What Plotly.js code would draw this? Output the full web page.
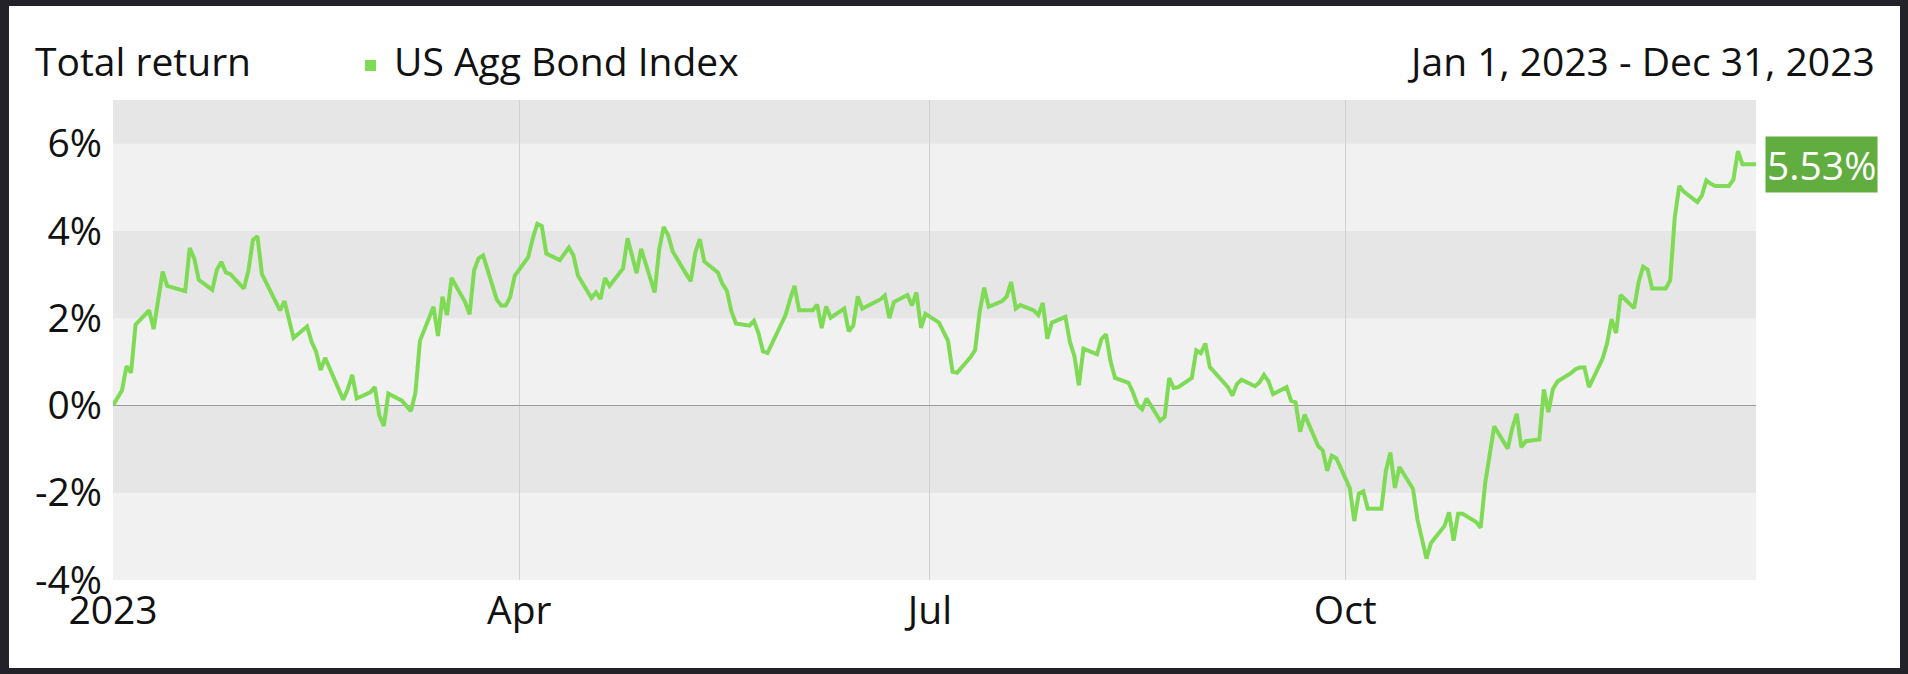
<!DOCTYPE html>
<html>
<head>
<meta charset="utf-8">
<script src="https://cdn.plot.ly/plotly-3.0.1.min.js"></script>
<style>
  html, body { margin: 0; padding: 0; background: #232228; width: 1908px; height: 674px; overflow: hidden; }
  #chart { position: absolute; left: 9px; top: 6px; width: 1891px; height: 662px; background: #ffffff; }
</style>
</head>
<body>
<div id="chart"></div>
<script>
const seriesName = 'US Agg Bond Index';
const chartTitle = 'Total return';
const periodLabel = 'Jan 1, 2023 - Dec 31, 2023';

const dates = [
'2023-01-01','2023-01-03','2023-01-04','2023-01-05','2023-01-06','2023-01-09','2023-01-10','2023-01-11','2023-01-12','2023-01-13',
'2023-01-17','2023-01-18','2023-01-19','2023-01-20','2023-01-23','2023-01-24','2023-01-25','2023-01-26','2023-01-27','2023-01-30',
'2023-01-31','2023-02-01','2023-02-02','2023-02-03','2023-02-06','2023-02-07','2023-02-08','2023-02-09','2023-02-10','2023-02-13',
'2023-02-14','2023-02-15','2023-02-16','2023-02-17','2023-02-21','2023-02-22','2023-02-23','2023-02-24','2023-02-27','2023-02-28',
'2023-03-01','2023-03-02','2023-03-03','2023-03-06','2023-03-07','2023-03-08','2023-03-09','2023-03-10','2023-03-13','2023-03-14',
'2023-03-15','2023-03-16','2023-03-17','2023-03-20','2023-03-21','2023-03-22','2023-03-23','2023-03-24','2023-03-27','2023-03-28',
'2023-03-29','2023-03-30','2023-03-31','2023-04-03','2023-04-04','2023-04-05','2023-04-06','2023-04-07','2023-04-10','2023-04-11',
'2023-04-12','2023-04-13','2023-04-14','2023-04-17','2023-04-18','2023-04-19','2023-04-20','2023-04-21','2023-04-24','2023-04-25',
'2023-04-26','2023-04-27','2023-04-28','2023-05-01','2023-05-02','2023-05-03','2023-05-04','2023-05-05','2023-05-08','2023-05-09',
'2023-05-10','2023-05-11','2023-05-12','2023-05-15','2023-05-16','2023-05-17','2023-05-18','2023-05-19','2023-05-22','2023-05-23',
'2023-05-24','2023-05-25','2023-05-26','2023-05-30','2023-05-31','2023-06-01','2023-06-02','2023-06-05','2023-06-06','2023-06-07',
'2023-06-08','2023-06-09','2023-06-12','2023-06-13','2023-06-14','2023-06-15','2023-06-16','2023-06-20','2023-06-21','2023-06-22',
'2023-06-23','2023-06-26','2023-06-27','2023-06-28','2023-06-29','2023-06-30','2023-07-03','2023-07-05','2023-07-06','2023-07-07',
'2023-07-10','2023-07-11','2023-07-12','2023-07-13','2023-07-14','2023-07-17','2023-07-18','2023-07-19','2023-07-20','2023-07-21',
'2023-07-24','2023-07-25','2023-07-26','2023-07-27','2023-07-28','2023-07-31','2023-08-01','2023-08-02','2023-08-03','2023-08-04',
'2023-08-07','2023-08-08','2023-08-09','2023-08-10','2023-08-11','2023-08-14','2023-08-15','2023-08-16','2023-08-17','2023-08-18',
'2023-08-21','2023-08-22','2023-08-23','2023-08-24','2023-08-25','2023-08-28','2023-08-29','2023-08-30','2023-08-31','2023-09-01',
'2023-09-05','2023-09-06','2023-09-07','2023-09-08','2023-09-11','2023-09-12','2023-09-13','2023-09-14','2023-09-15','2023-09-18',
'2023-09-19','2023-09-20','2023-09-21','2023-09-22','2023-09-25','2023-09-26','2023-09-27','2023-09-28','2023-09-29','2023-10-02',
'2023-10-03','2023-10-04','2023-10-05','2023-10-06','2023-10-09','2023-10-10','2023-10-11','2023-10-12','2023-10-13','2023-10-16',
'2023-10-17','2023-10-18','2023-10-19','2023-10-20','2023-10-23','2023-10-24','2023-10-25','2023-10-26','2023-10-27','2023-10-30',
'2023-10-31','2023-11-01','2023-11-02','2023-11-03','2023-11-06','2023-11-07','2023-11-08','2023-11-09','2023-11-10','2023-11-13',
'2023-11-14','2023-11-15','2023-11-16','2023-11-17','2023-11-20','2023-11-21','2023-11-22','2023-11-23','2023-11-24','2023-11-27',
'2023-11-28','2023-11-29','2023-11-30','2023-12-01','2023-12-04','2023-12-05','2023-12-06','2023-12-07','2023-12-08','2023-12-11',
'2023-12-12','2023-12-13','2023-12-14','2023-12-15','2023-12-18','2023-12-19','2023-12-20','2023-12-21','2023-12-22','2023-12-25',
'2023-12-26','2023-12-27','2023-12-28','2023-12-31'
];

const totalReturn = [
0.00,0.35,0.90,0.75,1.85,2.18,1.75,2.42,3.07,2.74,
2.62,3.61,3.37,2.88,2.65,3.11,3.29,3.05,3.01,2.68,
3.09,3.79,3.88,3.01,2.37,2.18,2.39,1.97,1.55,1.81,
1.46,1.23,0.81,1.09,0.13,0.37,0.70,0.16,0.30,0.42,
-0.23,-0.47,0.27,0.11,0.00,-0.13,0.29,1.48,2.26,1.59,
2.49,2.07,2.92,2.37,2.09,3.10,3.37,3.44,2.43,2.29,
2.29,2.49,2.97,3.40,3.83,4.16,4.11,3.48,3.33,3.48,
3.62,3.44,2.98,2.46,2.59,2.44,2.92,2.74,3.14,3.83,
3.43,3.03,3.59,2.59,3.57,4.09,3.90,3.53,3.01,2.85,
3.50,3.81,3.30,3.05,2.79,2.63,2.16,1.88,1.83,1.94,
1.66,1.24,1.20,2.07,2.43,2.74,2.18,2.18,2.31,1.77,
2.27,2.01,2.22,1.70,1.83,2.50,2.22,2.43,2.52,2.00,
2.37,2.53,2.29,2.59,1.78,2.10,1.90,1.48,0.77,0.75,
1.11,1.27,2.14,2.70,2.26,2.39,2.50,2.83,2.22,2.30,
2.18,2.07,2.35,1.53,1.90,2.03,1.46,1.13,0.46,1.30,
1.17,1.52,1.63,1.01,0.63,0.52,0.29,0.01,-0.09,0.16,
-0.35,-0.26,0.63,0.40,0.42,0.63,1.26,1.20,1.42,0.88,
0.42,0.23,0.49,0.59,0.44,0.53,0.70,0.55,0.26,0.42,
0.11,0.07,-0.60,-0.21,-0.93,-1.03,-1.50,-1.15,-1.21,-1.89,
-2.65,-2.02,-1.97,-2.37,-2.37,-1.50,-1.08,-1.89,-1.41,-1.91,
-2.61,-3.06,-3.51,-3.15,-2.76,-2.45,-3.10,-2.48,-2.48,-2.67,
-2.80,-1.78,-1.13,-0.48,-0.99,-0.52,-0.19,-0.96,-0.82,-0.78,
0.37,-0.15,0.37,0.55,0.74,0.83,0.87,0.87,0.42,1.07,
1.42,1.98,1.66,2.53,2.23,2.83,3.18,3.11,2.68,2.68,
2.87,4.31,5.03,4.90,4.66,4.81,5.16,5.08,5.03,5.03,
5.18,5.83,5.53,5.53
];

const xTickDates = ['2023-01-01','2023-04-01','2023-07-01','2023-10-01'];
const xTickLabels = ['2023','Apr','Jul','Oct'];
const yTickValues = [-4,-2,0,2,4,6];
const yTickLabels = ['-4%','-2%','0%','2%','4%','6%'];

const FONT = '"Open Sans", "DejaVu Sans", sans-serif';
const FS = 39;
const lineColor = '#7fdb55';
const labelColor = '#61ad3f';
const yMin = -4, yMax = 7;

// alternating horizontal bands (darker in every other 2% interval, counted from the top)
const shapes = [];
const bandEdges = yTickValues.concat([yMax]);
for (let i = 0; i < bandEdges.length - 1; i++) {
  const lo = bandEdges[i], hi = bandEdges[i + 1];
  const dark = ((bandEdges.length - 2 - i) % 2) === 0;
  shapes.push({
    type: 'rect', xref: 'paper', yref: 'y', x0: 0, x1: 1, y0: lo, y1: hi,
    fillcolor: dark ? '#e6e6e6' : '#f1f1f1', line: { width: 0 }, layer: 'below'
  });
}
// legend marker square
shapes.push({
  type: 'rect', xref: 'paper', yref: 'paper',
  x0: 0.1534, x1: 0.1601, y0: 1.0604, y1: 1.0833,
  fillcolor: lineColor, line: { width: 0 }
});

const lastIdx = dates.length - 1;

const trace = {
  type: 'scatter', mode: 'lines', name: seriesName,
  x: dates, y: totalReturn,
  line: { color: lineColor, width: 4 },
  hoverinfo: 'x+y'
};

const layout = {
  width: 1891, height: 662,
  margin: { l: 104, r: 144, t: 94, b: 88, pad: 0 },
  paper_bgcolor: '#ffffff',
  plot_bgcolor: '#f1f1f1',
  showlegend: false,
  font: { family: FONT, size: FS, color: '#111111' },
  xaxis: {
    type: 'date',
    range: ['2023-01-01', '2023-12-31'],
    tickmode: 'array', tickvals: xTickDates, ticktext: xTickLabels,
    showgrid: true, gridcolor: '#d0d0d0', gridwidth: 1,
    zeroline: false, showline: false, ticks: '',
    tickfont: { family: FONT, size: FS, color: '#111111' },
    ticklabelstandoff: 4
  },
  yaxis: {
    range: [yMin, yMax],
    tickmode: 'array', tickvals: yTickValues, ticktext: yTickLabels,
    showgrid: false, zeroline: true, zerolinecolor: '#9c9c9c', zerolinewidth: 1.5,
    showline: false, ticks: '',
    tickfont: { family: FONT, size: FS, color: '#111111' },
    ticklabelstandoff: 10
  },
  shapes: shapes,
  annotations: [
    { xref: 'paper', yref: 'paper', x: -0.0487, y: 1.082, xanchor: 'left', yanchor: 'middle',
      text: chartTitle, showarrow: false, font: { family: FONT, size: FS, color: '#111111' } },
    { xref: 'paper', yref: 'paper', x: 0.1698, y: 1.082, xanchor: 'left', yanchor: 'middle',
      text: seriesName, showarrow: false, font: { family: FONT, size: FS, color: '#111111' } },
    { xref: 'paper', yref: 'paper', x: 1.0737, y: 1.082, xanchor: 'right', yanchor: 'middle',
      text: periodLabel, showarrow: false, font: { family: FONT, size: FS, color: '#111111' } },
    { xref: 'x', yref: 'y', x: dates[lastIdx], y: totalReturn[lastIdx], xanchor: 'left', yanchor: 'middle',
      xshift: 9, text: totalReturn[lastIdx].toFixed(2) + '%', showarrow: false,
      bgcolor: labelColor, borderpad: 1,
      font: { family: FONT, size: FS, color: '#ffffff' } }
  ]
};

Plotly.newPlot('chart', [trace], layout, { displayModeBar: false, staticPlot: true });
</script>
</body>
</html>
